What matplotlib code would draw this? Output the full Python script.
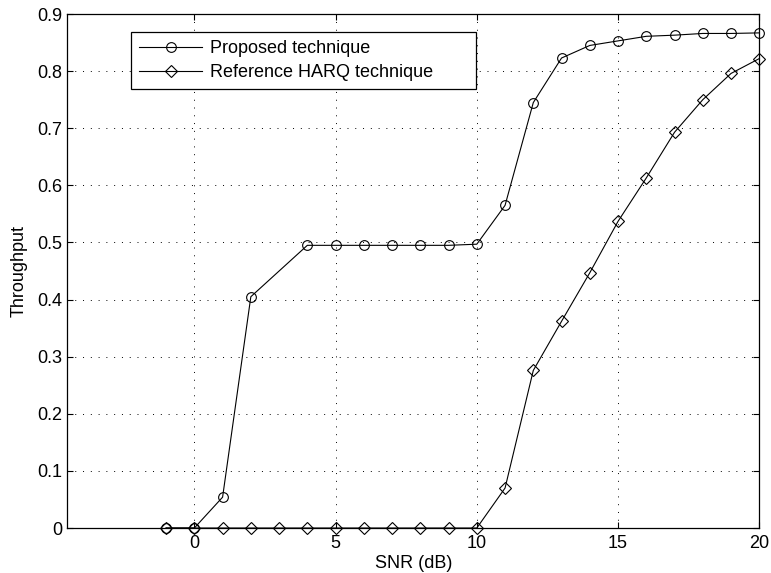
import matplotlib
matplotlib.use('Agg')
import matplotlib.pyplot as plt

plt.rcParams['font.family'] = ['Liberation Sans', 'DejaVu Sans']

# SNR points (dB)
snr = [-1, 0, 1, 2, 4, 5, 6, 7, 8, 9, 10, 11, 12, 13, 14, 15, 16, 17, 18, 19, 20]
snr_ref = [-1, 0, 1, 2, 3, 4, 5, 6, 7, 8, 9, 10, 11, 12, 13, 14, 15, 16, 17, 18, 19, 20]

# throughput values
thr_proposed = [0, 0, 0.054, 0.405, 0.495, 0.495, 0.495, 0.495, 0.495, 0.495,
                0.497, 0.565, 0.745, 0.823, 0.845, 0.853, 0.861, 0.863, 0.866, 0.866, 0.867]
thr_reference = [0, 0, 0, 0, 0, 0, 0, 0, 0, 0, 0, 0, 0.070, 0.276, 0.362, 0.447,
                 0.537, 0.613, 0.693, 0.750, 0.796, 0.822]

labels = ['Proposed technique', 'Reference HARQ technique']

fig = plt.figure(figsize=(7.71, 5.73), dpi=100)
ax = fig.add_axes([0.0872, 0.0785, 0.8976, 0.897])

ax.plot(snr, thr_proposed, color='black', lw=0.8, marker='o', ms=7,
        mfc='none', mec='black', mew=0.8, label=labels[0], clip_on=False, zorder=3)
ax.plot(snr_ref, thr_reference, color='black', lw=0.8, marker='D', ms=6,
        mfc='none', mec='black', mew=0.8, label=labels[1], clip_on=False, zorder=3)

ax.set_xlim(-4.5, 20)
ax.set_ylim(0, 0.9)
ax.set_xticks([0, 5, 10, 15, 20])
ax.set_yticks([0, 0.1, 0.2, 0.3, 0.4, 0.5, 0.6, 0.7, 0.8, 0.9])
ax.set_yticklabels(['0', '0.1', '0.2', '0.3', '0.4', '0.5', '0.6', '0.7', '0.8', '0.9'])
ax.tick_params(direction='in', top=True, right=True, labelsize=13, length=4, width=0.8)
ax.tick_params(axis='x', pad=5)
ax.tick_params(axis='y', pad=3.5)
ax.grid(True, color='black', linestyle=(0, (1, 7)), linewidth=0.7)
for s in ax.spines.values():
    s.set_linewidth(0.9)

ax.set_xlabel('SNR (dB)', fontsize=13, labelpad=2.5)
ax.set_ylabel('Throughput', fontsize=13, labelpad=7)

# legend box spans from x~-2.25 to x~10, as in the reference
leg = ax.legend(loc='upper left', bbox_to_anchor=(0.0922, 0.0, 0.499, 0.9656),
                mode='expand', borderaxespad=0, fontsize=13, fancybox=False,
                framealpha=1, handlelength=3.5, labelspacing=0.4, borderpad=0.45,
                handletextpad=0.4)
leg.get_frame().set_edgecolor('black')
leg.get_frame().set_linewidth(0.9)

fig.savefig('out.png', dpi=100)
